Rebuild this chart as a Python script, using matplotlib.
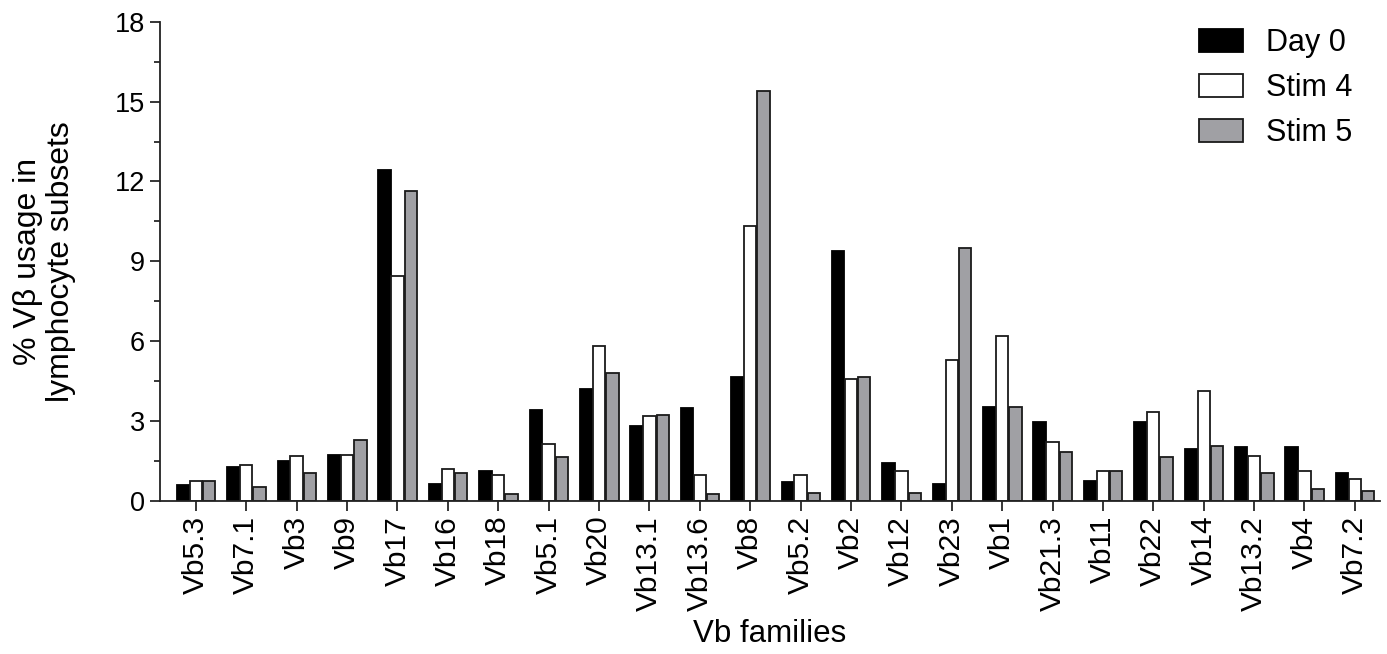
import numpy as np
import matplotlib
matplotlib.use('Agg')
import matplotlib.pyplot as plt
from matplotlib.ticker import MultipleLocator

plt.rcParams['font.family'] = ['Liberation Sans', 'DejaVu Sans']

families = ['Vb5.3', 'Vb7.1', 'Vb3', 'Vb9', 'Vb17', 'Vb16', 'Vb18', 'Vb5.1',
            'Vb20', 'Vb13.1', 'Vb13.6', 'Vb8', 'Vb5.2', 'Vb2', 'Vb12', 'Vb23',
            'Vb1', 'Vb21.3', 'Vb11', 'Vb22', 'Vb14', 'Vb13.2', 'Vb4', 'Vb7.2']
day0 = [0.6, 1.27, 1.49, 1.71, 12.44, 0.61, 1.11, 3.39, 4.21, 2.8, 3.47, 4.66,
        0.68, 9.37, 1.4, 0.61, 3.53, 2.96, 0.75, 2.96, 1.93, 2.0, 2.0, 1.05]
stim4 = [0.73, 1.32, 1.69, 1.71, 8.45, 1.17, 0.95, 2.13, 5.83, 3.16, 0.95, 10.31,
         0.96, 4.56, 1.11, 5.29, 6.19, 2.2, 1.1, 3.32, 4.12, 1.69, 1.1, 0.8]
stim5 = [0.73, 0.5, 1.04, 2.28, 11.63, 1.02, 0.23, 1.63, 4.79, 3.23, 0.23, 15.39,
         0.27, 4.65, 0.29, 9.5, 3.53, 1.83, 1.1, 1.63, 2.05, 1.02, 0.42, 0.35]

fig = plt.figure(figsize=(13.87, 6.54), dpi=100)
ax = fig.add_axes([0.1154, 0.2347, 0.8796, 0.7317])

x = np.arange(len(families))
w = 0.245
ax.bar(x - 0.255, day0, w, color='black', edgecolor='black', linewidth=1.3, label='Day 0')
ax.bar(x, stim4, w, color='white', edgecolor='#1a1a1a', linewidth=1.3, label='Stim 4')
ax.bar(x + 0.265, stim5, w, color='#a0a0a4', edgecolor='#1a1a1a', linewidth=1.3, label='Stim 5')

ax.set_xlim(-0.71, 23.5)
ax.set_ylim(0, 18)
ax.yaxis.set_major_locator(MultipleLocator(3))
ax.yaxis.set_minor_locator(MultipleLocator(1.5))
ax.set_xticks(x)
ax.set_xticklabels(families, rotation=90, fontsize=21.5)
ax.tick_params(axis='y', labelsize=19.5, length=7, width=1.1, direction='out', pad=4)
ax.tick_params(axis='y', which='minor', length=4, width=1.1)
ax.tick_params(axis='x', length=7, width=1.1, pad=4)

for s in ['top', 'right']:
    ax.spines[s].set_visible(False)
for s in ['left', 'bottom']:
    ax.spines[s].set_linewidth(1.3)
    ax.spines[s].set_color('#222222')

ax.set_ylabel('% V\u03b2 usage in\nlymphocyte subsets', fontsize=23, labelpad=28,
              linespacing=1.1)
ax.set_xlabel('Vb families', fontsize=22.5, labelpad=6)

ax.legend(loc='upper right', bbox_to_anchor=(1.0, 1.045), frameon=False, fontsize=22,
          handlelength=1.45, handleheight=0.78, handletextpad=0.75, labelspacing=0.5)

fig.savefig('out.png', dpi=100)
